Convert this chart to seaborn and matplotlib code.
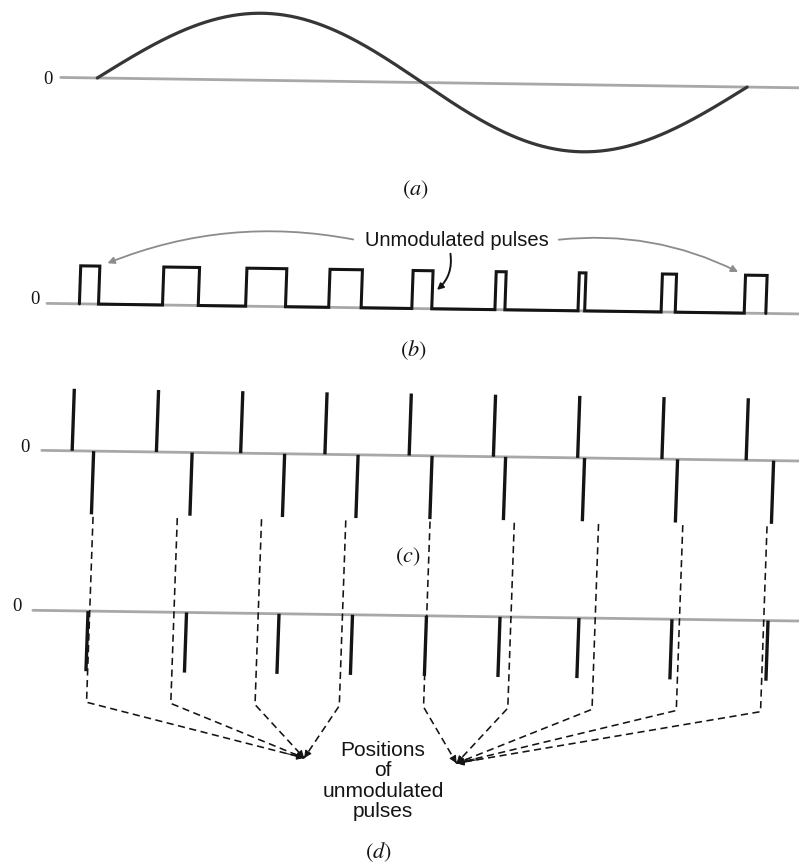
import numpy as np
import pandas as pd
import matplotlib.pyplot as plt
from matplotlib.transforms import Affine2D
import seaborn as sns

# time in sampling periods, heights in pulse amplitudes
pulse_index = np.arange(9)

# (a) message signal: one cycle of a sine
sine_start = 0.12
sine_period = 7.82

# (b) PWM, width of every pulse
pwm_width = [0.23, 0.43, 0.48, 0.39, 0.24, 0.12, 0.08, 0.17, 0.26]

# (c) spike on the leading (+) and trailing (-) edge, (d) PPM pulse on the trailing edge
ppm_delay = [0.255, 0.424, 0.522, 0.394, 0.272, 0.145, 0.082, 0.186, 0.326]
unmod_delay = 0.275  # where an unmodulated pulse would be

panel_names = ["a", "b", "c", "d"]

W, H = 799, 863
SHEAR_X, SHEAR_Y = 0.035, -0.014  # the scanned page sits a bit crooked
INK = "#141414"
AXIS_GRAY = "#a8a8a8"

sns.set_theme(style="white")
plt.rcParams["mathtext.fontset"] = "stix"
plt.rcParams["font.family"] = ["Liberation Sans", "DejaVu Sans"]

fig = plt.figure(figsize=(W / 100, H / 100), dpi=100)
fig.patch.set_facecolor("white")


def panel(x0, period, base, scale):
    # page-wide axes, x = sampling periods, y = pulse heights (0 on the baseline)
    ax = fig.add_axes([0, 0, 1, 1])
    ax.set_xlim(-x0 / period, (W - x0) / period)
    ax.set_ylim((base - H) / scale, base / scale)
    ax.set_axis_off()
    ax.patch.set_alpha(0)
    skew = Affine2D().skew(np.arctan(SHEAR_X), np.arctan(SHEAR_Y))
    return ax, ax.transData + skew


# ---- (a) ----
ax_a, tr_a = panel(59.8, 83.1, 77, 67)
ax_a.plot([-0.32, 10], [0, 0], color=AXIS_GRAY, lw=2, transform=tr_a)
t = np.linspace(sine_start, sine_start + sine_period, 300)
sine = pd.DataFrame({"t": t, "v": np.sin(2 * np.pi * (t - sine_start) / sine_period)})
sns.lineplot(data=sine, x="t", y="v", ax=ax_a, color="#363636", lw=2.3,
             estimator=None, sort=False, transform=tr_a)

# ---- (b) ----
ax_b, tr_b = panel(59.8, 83.1, 303, 38)
ax_b.plot([-0.39, 10], [0, 0], color=AXIS_GRAY, lw=2, transform=tr_b)
step_t, step_v = [], []
for k, w in zip(pulse_index, pwm_width):
    step_t += [k, k, k + w, k + w]
    step_v += [0, 1, 1, 0]
pwm = pd.DataFrame({"t": step_t, "v": step_v})
sns.lineplot(data=pwm, x="t", y="v", ax=ax_b, color=INK, lw=2.2, estimator=None,
             sort=False, transform=tr_b, solid_joinstyle="miter")

arrow_gray = dict(arrowstyle="-|>", color="#8c8c8c", lw=1.3, mutation_scale=10)
ax_b.annotate("", xy=(pwm_width[0] + 0.06, 1.05), xycoords=tr_b,
              xytext=(356, H - 240), textcoords="figure pixels",
              arrowprops=dict(connectionstyle="arc3,rad=0.15", **arrow_gray))
ax_b.annotate("", xy=(8 - 0.06, 1.05), xycoords=tr_b,
              xytext=(556, H - 240), textcoords="figure pixels",
              arrowprops=dict(connectionstyle="arc3,rad=-0.15", **arrow_gray))
ax_b.annotate("", xy=(4 + pwm_width[4] + 0.03, 0.45), xycoords=tr_b,
              xytext=(450, H - 251), textcoords="figure pixels",
              arrowprops=dict(arrowstyle="-|>", color=INK, lw=1.4, mutation_scale=9,
                              connectionstyle="arc3,rad=-0.3"))
fig.text(457 / W, 1 - 240 / H, "Unmodulated pulses", ha="center", va="center",
         fontsize=14.5, color=INK)

# ---- (c) and (d) ----
ax_c, tr_c = panel(57.7, 84.25, 450, 62)
d_base = -2.58
for start, base in ((-0.36, 0), (-0.40, d_base)):
    ax_c.plot([start, 10], [base, base], color=AXIS_GRAY, lw=2, transform=tr_c)

lead = pulse_index
trail = pulse_index + np.array(ppm_delay)
ax_c.vlines(lead, 0, 1, colors=INK, lw=2.4, transform=tr_c)
ax_c.vlines(trail, 0, -1.02, colors=INK, lw=2.4, transform=tr_c)
ax_c.vlines(trail, d_base, d_base - 0.97, colors=INK, lw=2.4, transform=tr_c)

dash_top, dash_kink = -1.06, -4.05
left_tip, right_tip = (2.88, -4.90), (4.69, -4.95)
for k, x in zip(pulse_index, pulse_index + unmod_delay):
    tx, ty = left_tip if k < 4 else right_tip
    ax_c.plot([x, x, tx], [dash_top, dash_kink, ty], color=INK, lw=1.15,
              ls=(0, (4.5, 2.8)), transform=tr_c)
    back = (tx + (x - tx) * 0.08, ty + (dash_kink - ty) * 0.08)
    ax_c.annotate("", xy=(tx, ty), xycoords=tr_c, xytext=back, textcoords=tr_c,
                  arrowprops=dict(arrowstyle="-|>", color=INK, lw=0.8,
                                  mutation_scale=11, shrinkA=0, shrinkB=0))

fig.text(383 / W, 1 - 781 / H, "Positions\nof\nunmodulated\npulses", ha="center",
         va="center", fontsize=15, linespacing=1.1, color=INK)

# ---- labels ----
for x, y in [(48, 79), (35, 300), (25, 447), (17, 606)]:
    fig.text(x / W, 1 - y / H, "0", ha="center", va="center", fontsize=13.5,
             family="Liberation Serif", color=INK)
for (x, y), name in zip([(415, 190), (413, 350), (408, 557), (378, 852)], panel_names):
    fig.text(x / W, 1 - y / H, f"$({name})$", ha="center", va="center",
             fontsize=16, color=INK)

fig.savefig("out.png", dpi=100, facecolor="white")
